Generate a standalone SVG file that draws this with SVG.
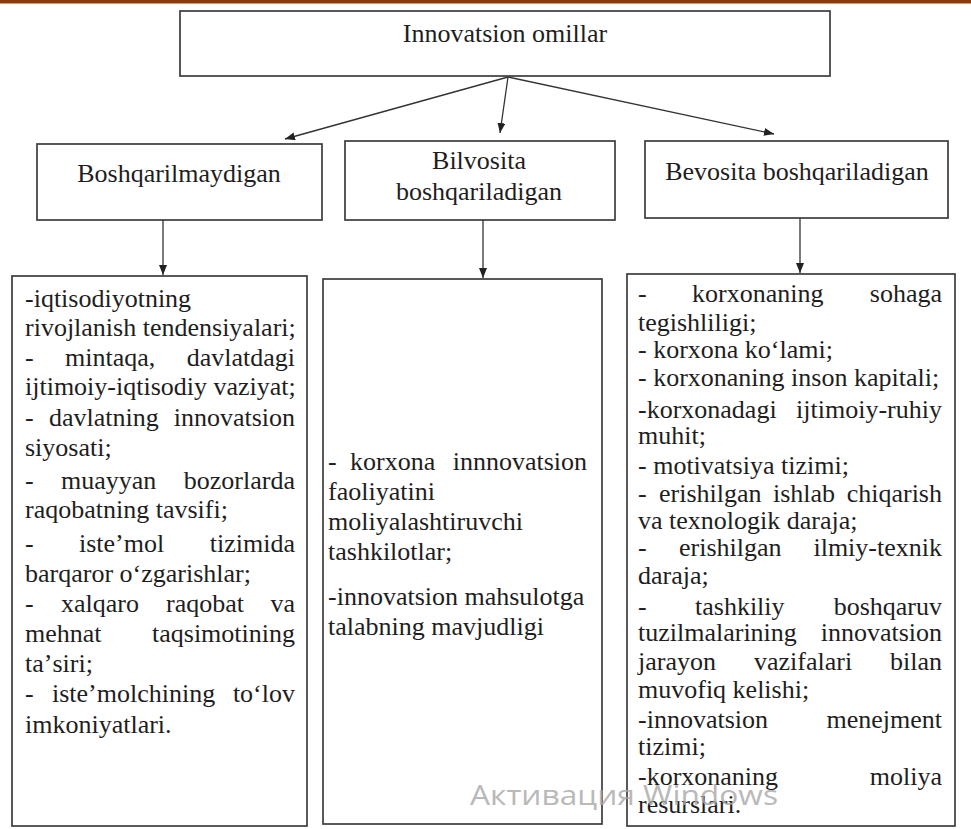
<svg xmlns="http://www.w3.org/2000/svg" width="971" height="829" viewBox="0 0 971 829">
  <style>
    .box { fill: #ffffff; stroke: #3c3c3c; stroke-width: 1.7; }
    .t { font-family: "Liberation Serif", "Times New Roman", serif; font-size: 26px; fill: #1e1e1e; }
    .c { text-anchor: middle; }
    .r { text-anchor: end; }
    .con { stroke: #333333; stroke-width: 1.3; fill: none; marker-end: url(#ah); }
    .wm { font-family: "Open Sans", "Noto Sans", sans-serif; font-size: 27px; fill: #a8a8a8; }
  </style>
  <defs>
    <marker id="ah" markerUnits="userSpaceOnUse" markerWidth="10" markerHeight="8" refX="10" refY="4" orient="auto">
      <path d="M0,0 L10,4 L0,8 z" fill="#222222"/>
    </marker>
  </defs>
  <rect x="0" y="0" width="971" height="829" fill="#ffffff"/>
  <rect x="0" y="0" width="971" height="3.5" fill="#8b3a10"/>

  <g id="connectors">
    <line class="con" x1="508" y1="77" x2="285" y2="139"/>
    <line class="con" x1="508" y1="77" x2="500" y2="133"/>
    <line class="con" x1="508" y1="77" x2="774" y2="134"/>
    <line class="con" x1="163" y1="220" x2="163" y2="275"/>
    <line class="con" x1="483" y1="220" x2="483" y2="278"/>
    <line class="con" x1="800" y1="218" x2="800" y2="273"/>
  </g>

  <g id="root">
    <rect class="box" x="180" y="11" width="650" height="65"/>
    <text class="t c" x="505" y="42">Innovatsion omillar</text>
  </g>

  <g id="h-left">
    <rect class="box" x="37" y="144" width="285" height="76"/>
    <text class="t c" x="179" y="182">Boshqarilmaydigan</text>
  </g>

  <g id="h-mid">
    <rect class="box" x="345" y="141" width="270" height="79"/>
    <text class="t c" x="479" y="169">Bilvosita</text>
    <text class="t c" x="479" y="200">boshqariladigan</text>
  </g>

  <g id="h-right">
    <rect class="box" x="645" y="141" width="303" height="77"/>
    <text class="t c" x="797" y="180">Bevosita boshqariladigan</text>
  </g>

  <g id="c-left">
    <rect class="box" x="12" y="276" width="295" height="550"/>
    <text class="t" x="25" y="307">-iqtisodiyotning</text>
    <text class="t" x="25" y="336">rivojlanish tendensiyalari;</text>
    <text class="t" x="25" y="366">-</text><text class="t" x="65" y="366">mintaqa,</text><text class="t r" x="295" y="366">davlatdagi</text>
    <text class="t" x="25" y="395">ijtimoiy-iqtisodiy vaziyat;</text>
    <text class="t" x="25" y="426">-</text><text class="t" x="49" y="426">davlatning</text><text class="t r" x="295" y="426">innovatsion</text>
    <text class="t" x="25" y="456">siyosati;</text>
    <text class="t" x="25" y="489">-</text><text class="t" x="61" y="489">muayyan</text><text class="t r" x="295" y="489">bozorlarda</text>
    <text class="t" x="25" y="518">raqobatning tavsifi;</text>
    <text class="t" x="25" y="552">-</text><text class="t" x="79" y="552">isteʼmol</text><text class="t r" x="295" y="552">tizimida</text>
    <text class="t" x="25" y="582">barqaror oʻzgarishlar;</text>
    <text class="t" x="25" y="612">-</text><text class="t" x="61" y="612">xalqaro</text><text class="t" x="166" y="612">raqobat</text><text class="t r" x="295" y="612">va</text>
    <text class="t" x="25" y="642">mehnat</text><text class="t r" x="295" y="642">taqsimotining</text>
    <text class="t" x="25" y="672">taʼsiri;</text>
    <text class="t" x="25" y="702">-</text><text class="t" x="52" y="702">isteʼmolchining</text><text class="t r" x="295" y="702">toʻlov</text>
    <text class="t" x="25" y="733">imkoniyatlari.</text>
  </g>

  <g id="c-mid">
    <rect class="box" x="323" y="279" width="279" height="545"/>
    <text class="t" x="328" y="470">-</text><text class="t" x="350" y="470">korxona</text><text class="t r" x="587" y="470">innnovatsion</text>
    <text class="t" x="328" y="500">faoliyatini</text>
    <text class="t" x="328" y="530">moliyalashtiruvchi</text>
    <text class="t" x="328" y="560">tashkilotlar;</text>
    <text class="t" x="328" y="605">-innovatsion mahsulotga</text>
    <text class="t" x="328" y="635">talabning mavjudligi</text>
  </g>

  <g id="c-right">
    <rect class="box" x="627" y="274" width="328" height="552"/>
    <text class="t" x="638" y="302">-</text><text class="t" x="692" y="302">korxonaning</text><text class="t r" x="942" y="302">sohaga</text>
    <text class="t" x="638" y="331">tegishliligi;</text>
    <text class="t" x="638" y="358">- korxona koʻlami;</text>
    <text class="t" x="638" y="386">- korxonaning inson kapitali;</text>
    <text class="t" x="638" y="418">-korxonadagi</text><text class="t r" x="942" y="418">ijtimoiy-ruhiy</text>
    <text class="t" x="638" y="444">muhit;</text>
    <text class="t" x="638" y="474">- motivatsiya tizimi;</text>
    <text class="t" x="638" y="502">-</text><text class="t" x="659" y="502">erishilgan</text><text class="t" x="773" y="502">ishlab</text><text class="t r" x="942" y="502">chiqarish</text>
    <text class="t" x="638" y="529">va texnologik daraja;</text>
    <text class="t" x="638" y="556">-</text><text class="t" x="679" y="556">erishilgan</text><text class="t r" x="942" y="556">ilmiy-texnik</text>
    <text class="t" x="638" y="584">daraja;</text>
    <text class="t" x="638" y="615">-</text><text class="t" x="695" y="615">tashkiliy</text><text class="t r" x="942" y="615">boshqaruv</text>
    <text class="t" x="638" y="641">tuzilmalarining</text><text class="t r" x="942" y="641">innovatsion</text>
    <text class="t" x="638" y="670">jarayon</text><text class="t" x="754" y="670">vazifalari</text><text class="t r" x="942" y="670">bilan</text>
    <text class="t" x="638" y="698">muvofiq kelishi;</text>
    <text class="t" x="638" y="728">-innovatsion</text><text class="t r" x="942" y="728">menejment</text>
    <text class="t" x="638" y="755">tizimi;</text>
    <text class="t" x="638" y="785">-korxonaning</text><text class="t r" x="942" y="785">moliya</text>
    <text class="t" x="638" y="813">resurslari.</text>
  </g>

  <text class="wm" x="470" y="805" textLength="308" lengthAdjust="spacingAndGlyphs" opacity="0.8">Активация Windows</text>
</svg>
